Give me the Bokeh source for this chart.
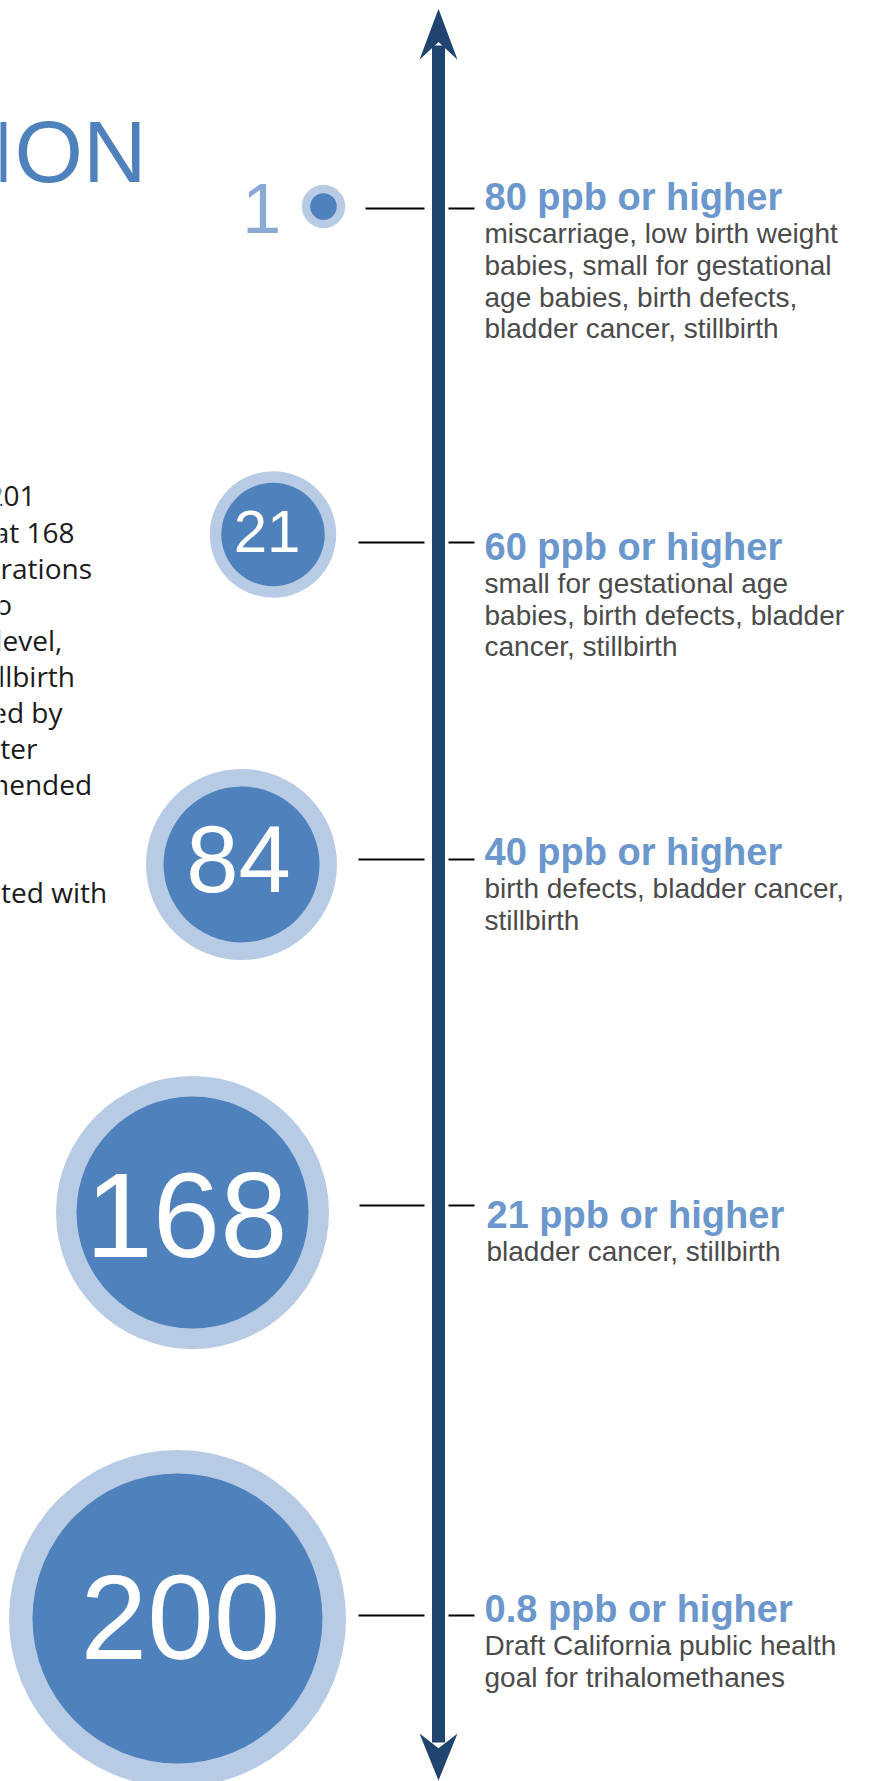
from bokeh.plotting import figure
from bokeh.models import Range1d, ColumnDataSource
from bokeh.core.properties import value
from bokeh.embed import file_html
from bokeh.resources import INLINE

# ---------------- data ----------------
counts = [1, 21, 84, 168, 200]
thresholds = ["80 ppb or higher", "60 ppb or higher", "40 ppb or higher",
              "21 ppb or higher", "0.8 ppb or higher"]
effects = [
    ["miscarriage, low birth weight", "babies, small for gestational",
     "age babies, birth defects,", "bladder cancer, stillbirth"],
    ["small for gestational age", "babies, birth defects, bladder",
     "cancer, stillbirth"],
    ["birth defects, bladder cancer,", "stillbirth"],
    ["bladder cancer, stillbirth"],
    ["Draft California public health", "goal for trihalomethanes"],
]
title_fragment = "TION"
side_text = ["201", "at 168", "rations", "o", " level,", "llbirth", "ed by",
             "ter", "mended", "", "", "ated with"]

# ---------------- layout (page pixels) ----------------
W, H = 869, 1781
axis_x = 438
cx = [323, 272.5, 241, 192, 177]
cy = [206, 534, 864, 1212, 1618]
r_out = [21.7, 63.2, 95.5, 136.5, 168.5]
r_in = [13.3, 51.7, 78, 116, 145]
num_fs = [70, 60, 94, 121, 120]
num_dx = [0, -6, -3, -6, 3]
num_base = [231.7, 551.7, 891, 1256.7, 1658]
tick_y = [208, 542, 859, 1205, 1615]
tick_left0 = [365, 358, 358, 359, 358]
head_x = [484, 484, 484, 486, 484]
head_y = [210, 559.6, 864.7, 1228, 1621.7]
side_end = [35, 74, 91.5, 11.7, 69, 74.5, 62, 37, 91.6, 0, 0, 106.6]

HEAD_FS = 38
DESC_FS = 28
SIDE_FS = 28
K_LIB = 0.345   # baseline correction (fraction of font size) for Liberation Sans
K_OPEN = 0.37   # baseline correction for Open Sans

C_RING = "#b8cbe4"
C_DOT = "#4f81bd"
C_AXIS = "#1f4470"
C_HEAD = "#6b97cc"
C_DESC = "#4b4b4b"
C_ONE = "#8aaad4"

p = figure(width=W, height=H,
           x_range=Range1d(0, W), y_range=Range1d(H, 0),
           x_axis_type=None, y_axis_type=None,
           output_backend="svg", toolbar_location=None, min_border=0)
p.grid.visible = False
p.outline_line_color = None
p.background_fill_color = "white"
p.border_fill_color = "white"


def by(base, fs, k=K_LIB):
    return base - k * fs


# title fragment (cut at the left edge)
p.text(x=[146], y=[by(181.7, 88)], text=[title_fragment], text_font=value("Liberation Sans"),
       text_font_size=value("88px"), text_color=C_DOT, text_align="right",
       text_baseline="alphabetic")

# left paragraph fragments
sx = [side_end[i] for i, t in enumerate(side_text) if t]
sy = [by(506 + 36 * i, SIDE_FS, K_OPEN) for i, t in enumerate(side_text) if t]
st = [t for t in side_text if t]
p.text(x=sx, y=sy, text=st, text_font=value("Open Sans"), text_font_size=value(f"{SIDE_FS}px"),
       text_color="#1a1a1a", text_align="right", text_baseline="alphabetic")

# timeline axis with arrowheads
p.quad(left=[axis_x - 6.5], right=[axis_x + 6.5], top=[45], bottom=[1742],
       fill_color=C_AXIS, line_color=None)
p.patches(xs=[[axis_x, axis_x + 19, axis_x, axis_x - 19],
              [axis_x, axis_x + 19, axis_x, axis_x - 19]],
          ys=[[8.3, 59.3, 41.5, 59.3], [1780, 1733, 1747.7, 1733]],
          fill_color=C_AXIS, line_color=None)

# ticks
p.segment(x0=tick_left0, x1=[axis_x - 14] * 5, y0=tick_y, y1=tick_y,
          line_color="black", line_width=2)
p.segment(x0=[axis_x + 10] * 5, x1=[axis_x + 36] * 5, y0=tick_y, y1=tick_y,
          line_color="black", line_width=2)

# bubbles
src = ColumnDataSource(dict(cx=cx, cy=cy, ro=r_out, ri=r_in))
p.circle(x="cx", y="cy", radius="ro", source=src, fill_color=C_RING, line_color=None)
p.circle(x="cx", y="cy", radius="ri", source=src, fill_color=C_DOT, line_color=None)

# counts
for i, n in enumerate(counts):
    fs = num_fs[i]
    if i == 0:
        p.text(x=[cx[i] - r_out[i] - 20.5], y=[by(num_base[i], fs)], text=[str(n)],
               text_font=value("Liberation Sans"), text_font_size=value(f"{fs}px"),
               text_color=C_ONE, text_align="right", text_baseline="alphabetic")
    else:
        p.text(x=[cx[i] + num_dx[i]], y=[by(num_base[i], fs)], text=[str(n)],
               text_font=value("Liberation Sans"), text_font_size=value(f"{fs}px"),
               text_color="white", text_align="center", text_baseline="alphabetic")

# threshold headings
p.text(x=head_x, y=[by(v, HEAD_FS) for v in head_y], text=thresholds,
       text_font=value("Liberation Sans"),
       text_font_size=value(f"{HEAD_FS}px"), text_font_style="bold", text_color=C_HEAD,
       text_align="left", text_baseline="alphabetic")

# effect descriptions
dx, dy, dt = [], [], []
for i, lines in enumerate(effects):
    for j, line in enumerate(lines):
        dx.append(head_x[i])
        dy.append(by(head_y[i] + 33 + 31.7 * j, DESC_FS))
        dt.append(line)
p.text(x=dx, y=dy, text=dt, text_font=value("Liberation Sans"),
       text_font_size=value(f"{DESC_FS}px"), text_color=C_DESC,
       text_align="left", text_baseline="alphabetic")

open("out.html", "w").write(file_html(p, INLINE))
